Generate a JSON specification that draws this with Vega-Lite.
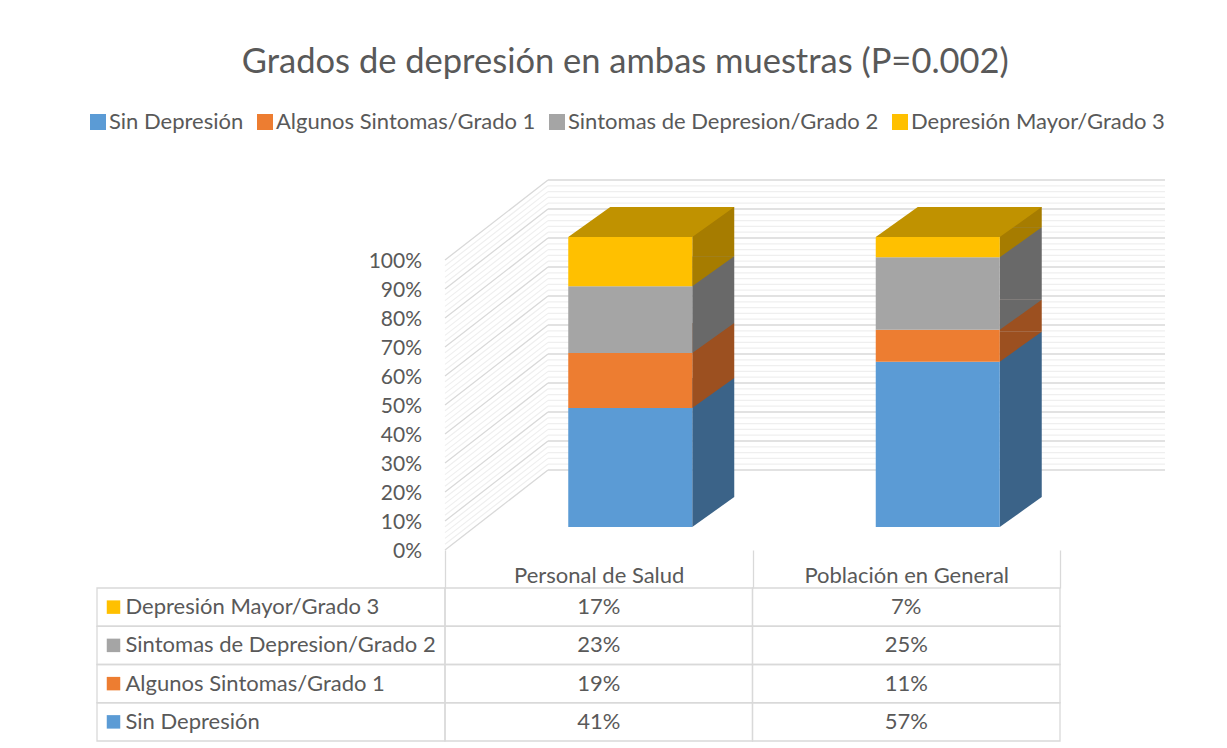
{
  "$schema": "https://vega.github.io/schema/vega-lite/v6.json",
  "autosize": {"type": "pad"},
  "padding": {"left": 87, "top": 44, "right": 20, "bottom": 7},
  "background": "white",
  "title": {"text": "Grados de depresión en ambas muestras (P=0.002)", "fontSize": 34.5, "font": "Lato", "fontWeight": "normal", "color": "#595959", "anchor": "middle", "dx": -1, "offset": 31},
  "datasets": {
    "datos": [
      {"muestra": "Personal de Salud", "nivel": "Sin Depresión", "orden": 1, "valor": 0.41},
      {"muestra": "Personal de Salud", "nivel": "Algunos Sintomas/Grado 1", "orden": 2, "valor": 0.19},
      {"muestra": "Personal de Salud", "nivel": "Sintomas de Depresion/Grado 2", "orden": 3, "valor": 0.23},
      {"muestra": "Personal de Salud", "nivel": "Depresión Mayor/Grado 3", "orden": 4, "valor": 0.17},
      {"muestra": "Población en General", "nivel": "Sin Depresión", "orden": 1, "valor": 0.57},
      {"muestra": "Población en General", "nivel": "Algunos Sintomas/Grado 1", "orden": 2, "valor": 0.11},
      {"muestra": "Población en General", "nivel": "Sintomas de Depresion/Grado 2", "orden": 3, "valor": 0.25},
      {"muestra": "Población en General", "nivel": "Depresión Mayor/Grado 3", "orden": 4, "valor": 0.07}
    ],
    "rejilla": [
      {"p": 0, "tipo": "mayor"}, {"p": 0.1, "tipo": "mayor"}, {"p": 0.2, "tipo": "mayor"}, {"p": 0.3, "tipo": "mayor"}, {"p": 0.4, "tipo": "mayor"}, {"p": 0.5, "tipo": "mayor"}, {"p": 0.6, "tipo": "mayor"}, {"p": 0.7, "tipo": "mayor"}, {"p": 0.8, "tipo": "mayor"}, {"p": 0.9, "tipo": "mayor"}, {"p": 1, "tipo": "mayor"},
      {"p": 0.02, "tipo": "menor"}, {"p": 0.04, "tipo": "menor"}, {"p": 0.06, "tipo": "menor"}, {"p": 0.08, "tipo": "menor"},
      {"p": 0.12, "tipo": "menor"}, {"p": 0.14, "tipo": "menor"}, {"p": 0.16, "tipo": "menor"}, {"p": 0.18, "tipo": "menor"},
      {"p": 0.22, "tipo": "menor"}, {"p": 0.24, "tipo": "menor"}, {"p": 0.26, "tipo": "menor"}, {"p": 0.28, "tipo": "menor"},
      {"p": 0.32, "tipo": "menor"}, {"p": 0.34, "tipo": "menor"}, {"p": 0.36, "tipo": "menor"}, {"p": 0.38, "tipo": "menor"},
      {"p": 0.42, "tipo": "menor"}, {"p": 0.44, "tipo": "menor"}, {"p": 0.46, "tipo": "menor"}, {"p": 0.48, "tipo": "menor"},
      {"p": 0.52, "tipo": "menor"}, {"p": 0.54, "tipo": "menor"}, {"p": 0.56, "tipo": "menor"}, {"p": 0.58, "tipo": "menor"},
      {"p": 0.62, "tipo": "menor"}, {"p": 0.64, "tipo": "menor"}, {"p": 0.66, "tipo": "menor"}, {"p": 0.68, "tipo": "menor"},
      {"p": 0.72, "tipo": "menor"}, {"p": 0.74, "tipo": "menor"}, {"p": 0.76, "tipo": "menor"}, {"p": 0.78, "tipo": "menor"},
      {"p": 0.82, "tipo": "menor"}, {"p": 0.84, "tipo": "menor"}, {"p": 0.86, "tipo": "menor"}, {"p": 0.88, "tipo": "menor"},
      {"p": 0.92, "tipo": "menor"}, {"p": 0.94, "tipo": "menor"}, {"p": 0.96, "tipo": "menor"}, {"p": 0.98, "tipo": "menor"}
    ]
  },
  "columns": 2,
  "spacing": {"row": 61, "column": 0},
  "bounds": "flush",
  "resolve": {"scale": {"color": "independent", "fill": "independent"}, "legend": {"color": "independent", "fill": "independent"}},
  "concat": [
    {
      "width": 348, "height": 290,
      "data": {"values": []},
      "mark": "point"
    },
    {
      "width": 615, "height": 290,
      "encoding": {
        "x": {"field": "muestra", "type": "nominal",
          "scale": {"type": "band", "domain": ["Personal de Salud", "Población en General"], "paddingInner": 0, "paddingOuter": 0},
          "axis": {"orient": "bottom", "offset": 23, "domain": false, "ticks": true, "tickBand": "extent", "tickSize": 38, "tickColor": "#d9d9d9", "tickWidth": 1.3, "labelPadding": -13, "labelBaseline": "middle", "labelAngle": 0, "labelLimit": 0, "labelFontSize": 22, "labelFont": "Lato", "labelColor": "#595959", "title": null, "grid": false}
        }
      },
      "layer": [
        {
          "data": {"name": "rejilla"},
          "transform": [{"filter": "datum.tipo == 'menor'"}],
          "mark": {"type": "rule", "color": "#efefef", "strokeWidth": 1.2, "xOffset": -50.75, "x2Offset": 258.75, "yOffset": -57},
          "encoding": {
            "x": {"datum": "Personal de Salud", "type": "nominal"},
            "x2": {"datum": "Población en General"},
            "y": {"field": "p", "type": "quantitative", "scale": {"domain": [0, 1], "nice": false}, "axis": null}
          }
        },
        {
          "data": {"name": "rejilla"},
          "transform": [{"filter": "datum.tipo == 'menor'"}],
          "mark": {"type": "rule", "color": "#efefef", "strokeWidth": 1.2, "xOffset": -153.75, "x2Offset": -50.75, "yOffset": 23, "y2Offset": -57},
          "encoding": {
            "x": {"datum": "Personal de Salud", "type": "nominal"},
            "x2": {"datum": "Personal de Salud"},
            "y": {"field": "p", "type": "quantitative", "axis": null},
            "y2": {"field": "p"}
          }
        },
        {
          "data": {"name": "rejilla"},
          "transform": [{"filter": "datum.tipo == 'mayor'"}],
          "mark": {"type": "rule", "color": "#d9d9d9", "strokeWidth": 1.3, "xOffset": -50.75, "x2Offset": 258.75, "yOffset": -57},
          "encoding": {
            "x": {"datum": "Personal de Salud", "type": "nominal"},
            "x2": {"datum": "Población en General"},
            "y": {"field": "p", "type": "quantitative", "axis": null}
          }
        },
        {
          "data": {"name": "rejilla"},
          "transform": [{"filter": "datum.tipo == 'mayor'"}],
          "mark": {"type": "rule", "color": "#d9d9d9", "strokeWidth": 1.3, "xOffset": -153.75, "x2Offset": -50.75, "yOffset": 23, "y2Offset": -57},
          "encoding": {
            "x": {"datum": "Personal de Salud", "type": "nominal"},
            "x2": {"datum": "Personal de Salud"},
            "y": {"field": "p", "type": "quantitative", "axis": null},
            "y2": {"field": "p"}
          }
        },
        {
          "data": {"name": "rejilla"},
          "transform": [{"filter": "datum.tipo == 'mayor'"}],
          "mark": {"type": "text", "align": "right", "baseline": "middle", "fontSize": 21, "font": "Lato", "color": "#595959", "xOffset": -176.75, "yOffset": 25},
          "encoding": {
            "x": {"datum": "Personal de Salud", "type": "nominal"},
            "y": {"field": "p", "type": "quantitative", "axis": null},
            "text": {"field": "p", "type": "quantitative", "format": ".0%"}
          }
        },
        {
          "data": {"name": "datos"},
          "transform": [{"stack": "valor", "groupby": ["muestra"], "sort": [{"field": "orden", "order": "ascending"}], "as": ["v0", "v1"]}],
          "layer": [
            {
              "mark": {"type": "bar", "width": 42, "xOffset": 114.5, "yOffset": -30, "y2Offset": -30},
              "encoding": {
                "y": {"field": "v0", "type": "quantitative", "axis": null},
                "y2": {"field": "v1"},
                "fill": {"field": "orden", "type": "ordinal", "legend": null,
                  "scale": {"domain": [1, 2, 3, 4], "range": ["#3b6388", "#9c5020", "#696969", "#a67c00"]}}
              }
            },
            {
              "mark": {"type": "point", "shape": "M93.5,0L93.5,-30L135.5,-30Z", "size": 4, "filled": true, "opacity": 1, "strokeWidth": 0},
              "encoding": {
                "y": {"field": "v0", "type": "quantitative", "axis": null},
                "fill": {"field": "orden", "type": "ordinal", "legend": null}
              }
            },
            {
              "mark": {"type": "bar", "width": 124, "xOffset": 31.5},
              "encoding": {
                "y": {"field": "v0", "type": "quantitative", "axis": null},
                "y2": {"field": "v1"},
                "color": {"field": "nivel", "type": "nominal",
                  "scale": {"domain": ["Sin Depresión", "Algunos Sintomas/Grado 1", "Sintomas de Depresion/Grado 2", "Depresión Mayor/Grado 3"], "range": ["#5b9bd5", "#ed7d31", "#a5a5a5", "#ffc000"]},
                  "legend": {"title": null, "orient": "none", "legendX": -358, "legendY": -126, "padding": 0, "direction": "horizontal", "symbolType": "square", "symbolSize": 256, "symbolStrokeWidth": 0, "labelFontSize": 22, "labelFont": "Lato", "labelColor": "#595959", "labelLimit": 0, "columnPadding": 10, "labelOffset": 0}}
              }
            },
            {
              "transform": [{"filter": "datum.orden == 4"}],
              "mark": {"type": "point", "shape": "M-30.5,0L93.5,0L135.5,-30L11.5,-30Z", "size": 4, "filled": true, "opacity": 1, "strokeWidth": 0, "color": "#c09200"},
              "encoding": {
                "y": {"field": "v1", "type": "quantitative", "axis": null}
              }
            }
          ]
        }
      ]
    },
    {
      "width": 348, "height": 153,
      "data": {"name": "datos"},
      "transform": [{"filter": "datum.muestra == 'Personal de Salud'"}],
      "encoding": {
        "y": {"field": "nivel", "type": "nominal", "sort": {"field": "orden", "order": "descending"},
          "scale": {"type": "band", "paddingInner": 0, "paddingOuter": 0},
          "axis": {"orient": "left", "domain": false, "ticks": false, "grid": false, "labelAlign": "left", "labelPadding": -28, "labelFontSize": 22, "labelFont": "Lato", "labelColor": "#595959", "labelLimit": 0, "title": null, "zindex": 1}}
      },
      "layer": [
        {"mark": {"type": "rect", "filled": false, "stroke": "#d9d9d9", "strokeWidth": 1.3}},
        {
          "mark": {"type": "point", "shape": "square", "size": 182, "filled": true, "opacity": 1, "xOffset": -157.5, "strokeWidth": 0},
          "encoding": {
            "fill": {"field": "nivel", "type": "nominal", "legend": null,
              "scale": {"domain": ["Sin Depresión", "Algunos Sintomas/Grado 1", "Sintomas de Depresion/Grado 2", "Depresión Mayor/Grado 3"], "range": ["#5b9bd5", "#ed7d31", "#a5a5a5", "#ffc000"]}}
          }
        }
      ]
    },
    {
      "width": 615, "height": 153,
      "data": {"name": "datos"},
      "encoding": {
        "x": {"field": "muestra", "type": "nominal", "scale": {"type": "band", "domain": ["Personal de Salud", "Población en General"], "paddingInner": 0, "paddingOuter": 0}, "axis": null},
        "y": {"field": "nivel", "type": "nominal", "sort": {"field": "orden", "order": "descending"}, "scale": {"type": "band", "paddingInner": 0, "paddingOuter": 0}, "axis": null}
      },
      "layer": [
        {"mark": {"type": "rect", "filled": false, "stroke": "#d9d9d9", "strokeWidth": 1.3}},
        {"mark": {"type": "text", "fontSize": 22, "font": "Lato", "color": "#595959"},
          "encoding": {"text": {"field": "valor", "type": "quantitative", "format": ".0%"}}}
      ]
    }
  ],
  "config": {"view": {"stroke": null}, "font": "Lato"}
}
